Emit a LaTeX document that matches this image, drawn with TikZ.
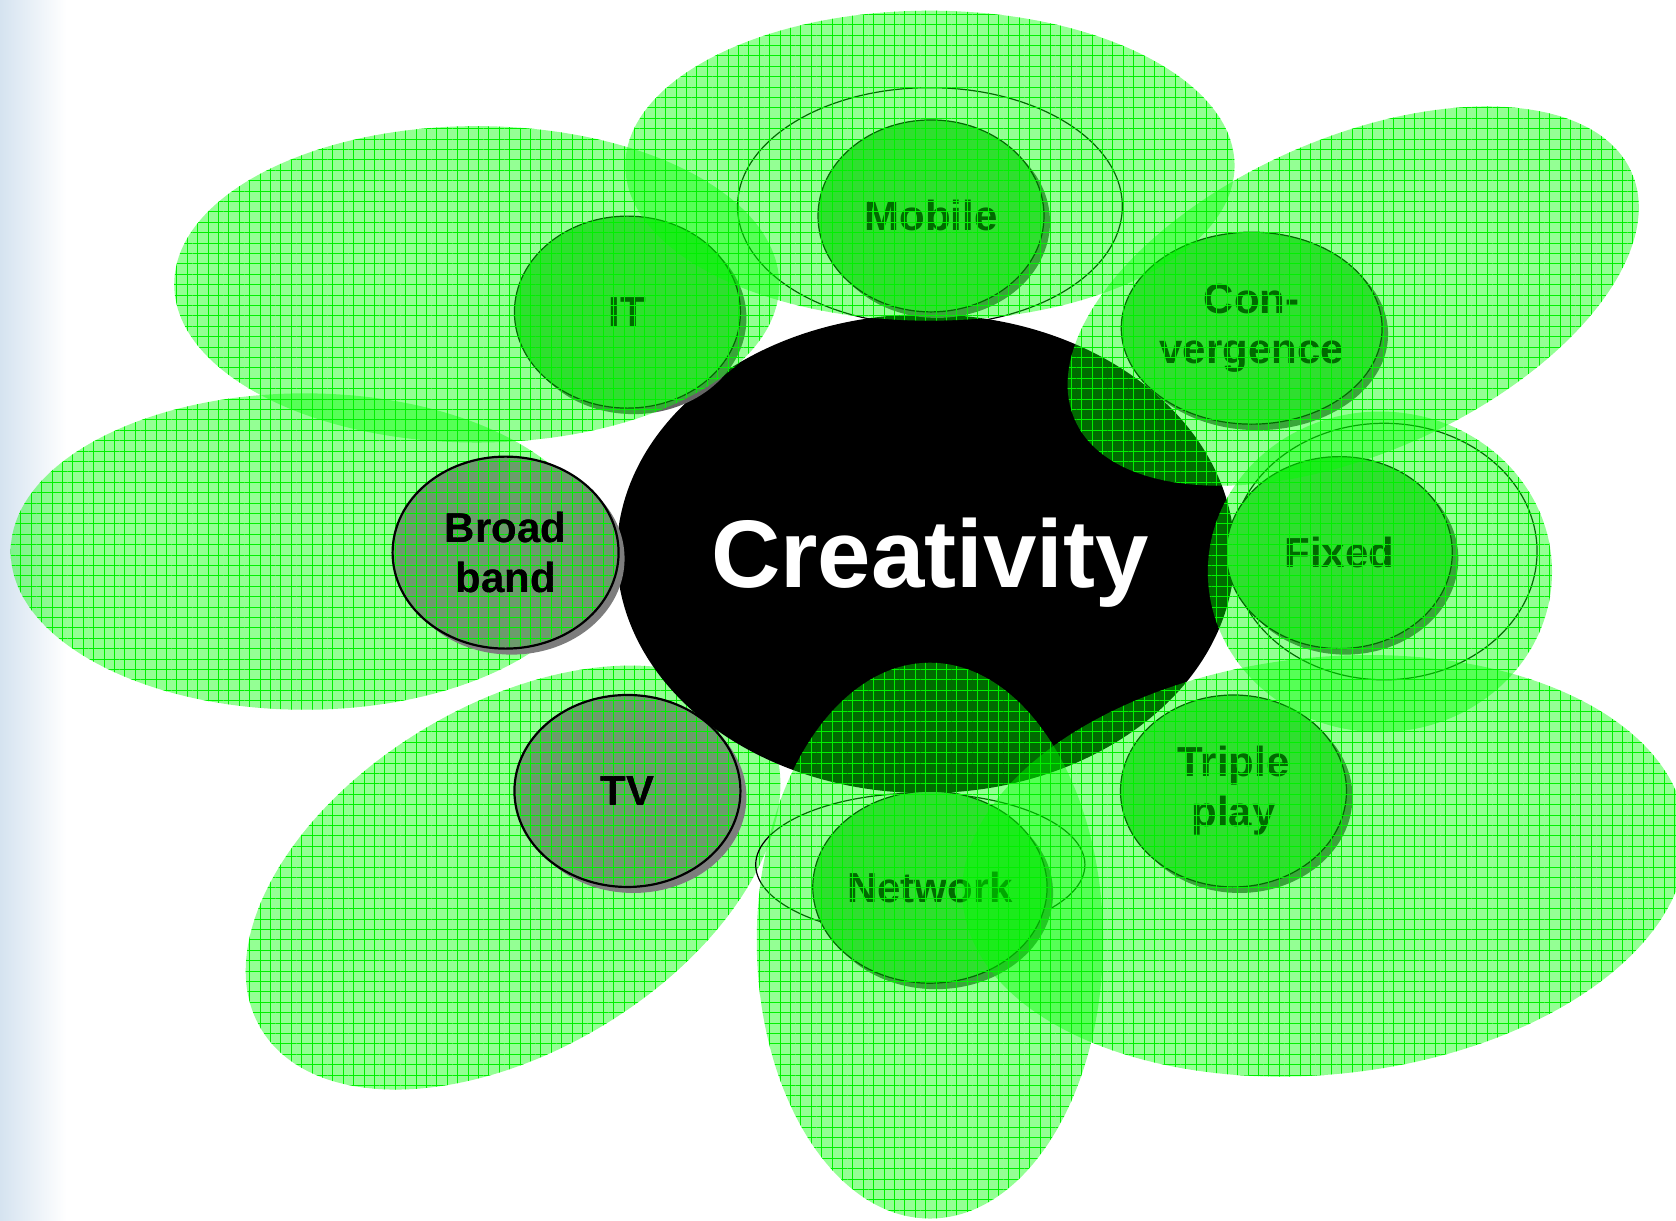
\documentclass[tikz,border=0pt]{standalone}
\usepackage{fontspec}
\setmainfont{Liberation Sans}
\usetikzlibrary{shapes.geometric,shadows,patterns.meta}
\definecolor{stripblue}{RGB}{213,227,240}
\definecolor{nodegreen}{RGB}{82,200,82}
\definecolor{nodegray}{RGB}{108,155,108}
\definecolor{shadowgray}{RGB}{100,100,100}
\definecolor{shadowgray2}{RGB}{125,125,125}
\definecolor{gridgreen}{RGB}{0,240,0}
\begin{document}
\begin{tikzpicture}[x=0.53444pt,y=-0.53444pt,
  gridfill/.style={pattern={Hatch[distance=5.2pt,line width=0.4pt]}, pattern color=gridgreen},
  petal/.style={fill=green, fill opacity=0.42,
    postaction={gridfill, fill opacity=0.4}},
  ring/.style={draw=black, line width=0.6pt},
  basenode/.style={ellipse, minimum width=113pt, minimum height=96pt, inner sep=0pt,
    align=center, font=\bfseries\fontsize{21}{25}\selectfont},
  greennode/.style={basenode, draw=black, line width=0.6pt, fill=nodegreen,
    drop shadow={shadow xshift=3pt, shadow yshift=-3pt, fill=shadowgray, opacity=1}},
  graynode/.style={basenode, draw=black, line width=1.1pt, fill=nodegray,
    drop shadow={shadow xshift=3pt, shadow yshift=-3pt, fill=shadowgray2, opacity=1}}
]
\useasboundingbox (0,0) rectangle (1568,1142);
% left strip
\shade[left color=stripblue, right color=white] (0,0) rectangle (62,1142);
% petals under the core
\fill[petal] (285,516) ellipse [x radius=275, y radius=148];
\fill[petal, rotate around={31:(480,821)}] (480,821) ellipse [x radius=275, y radius=162];
% rings
\draw[ring] (870,193) ellipse [x radius=180, y radius=111];
\draw[ring] (1295,516) ellipse [x radius=143, y radius=120];
\draw[ring] (861,809) ellipse [x radius=154, y radius=67];
% core
\node[ellipse, fill=black, minimum width=308.9pt, minimum height=239.4pt, inner sep=0pt] (core) at (866,518) {};
\node[anchor=base, text=white, font=\bfseries\fontsize{48}{54}\selectfont, inner sep=0pt] (ctext) at (870,550) {Creativity};
% green nodes
\node[greennode] (mobile) at (871,202) {Mobile};
\node[greennode] (it) at (587,292) {IT};
\node[greennode] (conv) at (1171,307) {Con-\\vergence};
\node[greennode] (fixed) at (1253,517) {Fixed};
\node[greennode] (triple) at (1154,740) {Triple\\play};
\node[greennode] (network) at (870,830) {Network};
% petals over
\fill[petal] (870,155) ellipse [x radius=285, y radius=145];
\fill[petal] (446,266) ellipse [x radius=283, y radius=148];
\fill[petal, rotate around={24:(1266,277)}] (1266,277) ellipse [x radius=285, y radius=147];
\fill[petal] (1291,535) ellipse [x radius=161, y radius=150];
\fill[petal, rotate around={6:(1239,810)}] (1239,810) ellipse [x radius=340, y radius=195];
\fill[petal] (870,880) ellipse [x radius=162, y radius=260];
% gray nodes
\node[graynode] (broad) at (473,517) {Broad\\band};
\path[gridfill, fill opacity=0.3] (broad.center) ellipse [x radius=104, y radius=88];
\node[graynode] (tv) at (587,740) {TV};
\path[gridfill, fill opacity=0.3] (tv.center) ellipse [x radius=104, y radius=88];
\node[basenode] at (broad.center) {Broad\\band};
\node[basenode] at (tv.center) {TV};
\end{tikzpicture}
\end{document}
